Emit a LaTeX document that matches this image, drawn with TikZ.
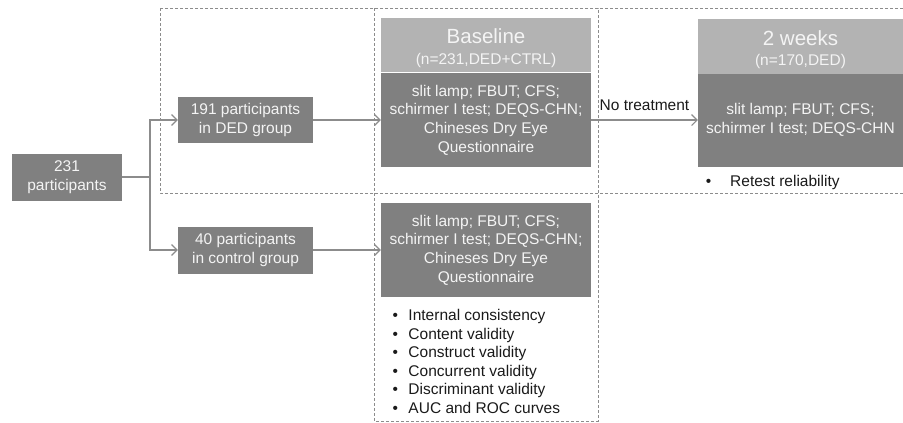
\documentclass[tikz,border=0pt]{standalone}
\usepackage{fontspec}
\setmainfont{Liberation Sans}
\usetikzlibrary{arrows.meta,positioning}
\definecolor{boxdark}{HTML}{808080}
\definecolor{boxlight}{HTML}{B3B3B3}
\definecolor{linegray}{HTML}{8C8C8C}
\definecolor{textlight}{HTML}{F4F4F4}
\definecolor{textdark}{HTML}{1A1A1A}

\begin{document}
\begin{tikzpicture}[
  x=1pt, y=-1pt,
  >={Straight Barb[length=5.5pt,width=11pt]},
  every node/.style={font=\fontsize{15.5}{18.6}\selectfont, inner sep=0pt},
  darkbox/.style={fill=boxdark, text=textlight, align=center},
  headbox/.style={fill=boxlight, text=textlight, align=center},
  bullets/.style={text=textdark, align=left, anchor=west},
  arr/.style={->, draw=linegray, line width=1.1pt},
  frame/.style={draw=linegray, dash pattern=on 3pt off 2pt, line width=0.8pt}
]
\useasboundingbox (0,0) rectangle (903,423);
% dashed groups
\draw[frame] (160,8) rectangle (904,193);
\draw[frame] (374,8) rectangle (598,421);

\node[darkbox, minimum width=110pt, minimum height=47pt] (total) at (67,177) {231\\participants};
\node[darkbox, minimum width=135pt, minimum height=46pt] (ded) at (245.5,120) {191 participants\\in DED group};
\node[darkbox, minimum width=135pt, minimum height=47pt] (ctrl) at (245.5,250) {40 participants\\in control group};

\node[headbox, minimum width=210pt, minimum height=54pt] (basehead) at (486,45) {{\fontsize{20.5}{22}\selectfont\rule{0pt}{21pt}Baseline}\\[2pt](n=231,DED+CTRL)};
\node[darkbox, minimum width=210pt, minimum height=94pt] (basebody) at (486,120) {slit lamp; FBUT; CFS;\\schirmer I test; DEQS-CHN;\\Chineses Dry Eye\\Questionnaire};
\node[darkbox, minimum width=210pt, minimum height=94pt] (ctrlbody) at (486,250) {slit lamp; FBUT; CFS;\\schirmer I test; DEQS-CHN;\\Chineses Dry Eye\\Questionnaire};

\node[headbox, minimum width=205pt, minimum height=55pt] (weekhead) at (800.5,46.5) {{\fontsize{20.5}{22}\selectfont\rule{0pt}{21pt}2 weeks}\\[2pt](n=170,DED)};
\node[darkbox, minimum width=205pt, minimum height=93pt] (weekbody) at (800.5,120) {slit lamp; FBUT; CFS;\\schirmer I test; DEQS-CHN};

\node[bullets] (retest) at (705.6,182) {\makebox[24.4pt][l]{\textbullet}Retest reliability};
\node[bullets] (checks) at (392.3,361.5) {\makebox[16pt][l]{\textbullet}Internal consistency\\
  \makebox[16pt][l]{\textbullet}Content validity\\
  \makebox[16pt][l]{\textbullet}Construct validity\\
  \makebox[16pt][l]{\textbullet}Concurrent validity\\
  \makebox[16pt][l]{\textbullet}Discriminant validity\\
  \makebox[16pt][l]{\textbullet}AUC and ROC curves};

% connectors
\coordinate (fork) at (150,177);
\draw[draw=linegray, line width=1.1pt] (total.east) -- (fork);
\draw[arr] (fork) |- (ded.west);
\draw[arr] (fork) |- (ctrl.west);
\draw[arr] (ded) -- (basebody);
\draw[arr] (ctrl) -- (ctrlbody);
\draw[arr] (basebody) -- (weekbody) node[midway, above=9pt, text=textdark] {No treatment};
\end{tikzpicture}
\end{document}
